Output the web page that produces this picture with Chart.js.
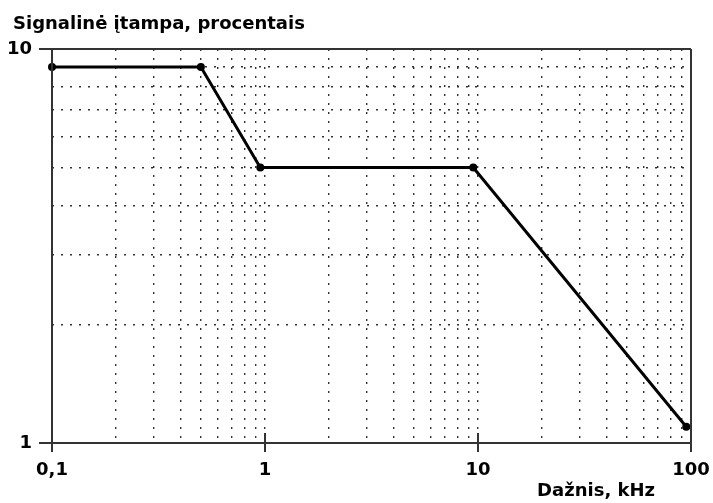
<!DOCTYPE html>
<html>
<head>
<meta charset="utf-8">
<script src="https://cdn.jsdelivr.net/npm/chart.js@4.4.1/dist/chart.umd.min.js"></script>
<style>
  html, body { margin: 0; padding: 0; background: #fff; }
  #wrap { width: 713px; height: 503px; position: relative; }
</style>
</head>
<body>
<div id="wrap"><canvas id="chart"></canvas></div>
<script>
// Signalinė įtampa vs dažnis (log-log)
var freqKHz = [0.1, 0.5, 0.95, 9.5, 95];
var voltagePct = [9, 9, 5, 5, 1.1];

var xLabelValues = [0.1, 1, 10, 100];
var xLabelTexts = ['0,1', '1', '10', '100'];
var yLabelValues = [1, 10];
var yLabelTexts = ['1', '10'];

var chartTitle = 'Signalinė įtampa, procentais';
var xAxisTitle = 'Dažnis, kHz';

var FONT = '"DejaVu Sans", Arial, sans-serif';

// minor grid positions 1..9 in every decade
function decadeSteps(from, to) {
  var out = [];
  for (var d = from; d < to * 0.999; d *= 10) {
    for (var k = 1; k < 10; k++) out.push(Math.round(d * k * 1e6) / 1e6);
  }
  out.push(to);
  return out;
}

function labelFor(values, texts, v) {
  for (var i = 0; i < values.length; i++) {
    if (Math.abs(values[i] - v) < values[i] * 1e-6) return texts[i];
  }
  return '';
}

var framePlugin = {
  id: 'frame',
  afterDraw: function (chart) {
    var ctx = chart.ctx;
    var xs = chart.scales.x;
    var ys = chart.scales.y;
    var x0 = xs.getPixelForValue(0.1), x1 = xs.getPixelForValue(100);
    var yTop = ys.getPixelForValue(10), yBot = ys.getPixelForValue(1);
    ctx.save();
    ctx.strokeStyle = '#333';
    ctx.lineWidth = 2;
    ctx.beginPath();
    ctx.moveTo(x0 - 13, yTop); ctx.lineTo(x1, yTop);
    ctx.moveTo(x0 - 13, yBot); ctx.lineTo(x1, yBot);
    ctx.moveTo(x0, yTop); ctx.lineTo(x0, yBot + 9);
    ctx.moveTo(x1, yTop); ctx.lineTo(x1, yBot + 9);
    [1, 10].forEach(function (v) {
      var px = xs.getPixelForValue(v);
      ctx.moveTo(px, yBot - 10); ctx.lineTo(px, yBot + 9);
    });
    ctx.stroke();

    // titles
    ctx.fillStyle = '#000';
    ctx.font = 'bold 18px ' + FONT;
    ctx.textBaseline = 'alphabetic';
    ctx.textAlign = 'left';
    ctx.fillText(chartTitle, 13, 29);
    ctx.textAlign = 'right';
    ctx.fillText(xAxisTitle, x1 - 36, 496);
    ctx.restore();
  }
};

var ctx = document.getElementById('chart').getContext('2d');
new Chart(ctx, {
  type: 'line',
  data: {
    datasets: [{
      data: freqKHz.map(function (f, i) { return { x: f, y: voltagePct[i] }; }),
      borderColor: '#000',
      backgroundColor: '#000',
      borderWidth: 3,
      pointRadius: 2.5,
      pointHoverRadius: 2.5,
      tension: 0,
      clip: 5
    }]
  },
  options: {
    responsive: true,
    maintainAspectRatio: false,
    animation: false,
    layout: { padding: { left: 0, right: 22, top: 49, bottom: 0 } },
    plugins: {
      legend: { display: false },
      tooltip: { enabled: false }
    },
    scales: {
      x: {
        type: 'logarithmic',
        position: 'bottom',
        min: 0.1,
        max: 100,
        afterBuildTicks: function (scale) {
          scale.ticks = decadeSteps(0.1, 100).map(function (v) { return { value: v }; });
        },
        afterFit: function (scale) {
          scale.height = 60;
          scale.paddingLeft = 0;
          scale.paddingRight = 0;
        },
        ticks: {
          autoSkip: false,
          maxRotation: 0,
          padding: 17,
          color: '#000',
          font: { family: FONT, size: 18, weight: 'bold' },
          callback: function (v) { return labelFor(xLabelValues, xLabelTexts, v); }
        },
        grid: { color: '#333', lineWidth: 1.4, drawTicks: false },
        border: { display: false, dash: [2, 7] }
      },
      y: {
        type: 'logarithmic',
        min: 1,
        max: 10,
        afterBuildTicks: function (scale) {
          scale.ticks = decadeSteps(1, 10).map(function (v) { return { value: v }; });
        },
        afterFit: function (scale) {
          scale.width = 52;
          scale.paddingTop = 0;
          scale.paddingBottom = 0;
        },
        ticks: {
          autoSkip: false,
          padding: 20,
          color: '#000',
          font: { family: FONT, size: 18, weight: 'bold' },
          callback: function (v) { return labelFor(yLabelValues, yLabelTexts, v); }
        },
        grid: { color: '#333', lineWidth: 1.4, drawTicks: false },
        border: { display: false, dash: [2, 7] }
      }
    }
  },
  plugins: [framePlugin]
});
</script>
</body>
</html>
